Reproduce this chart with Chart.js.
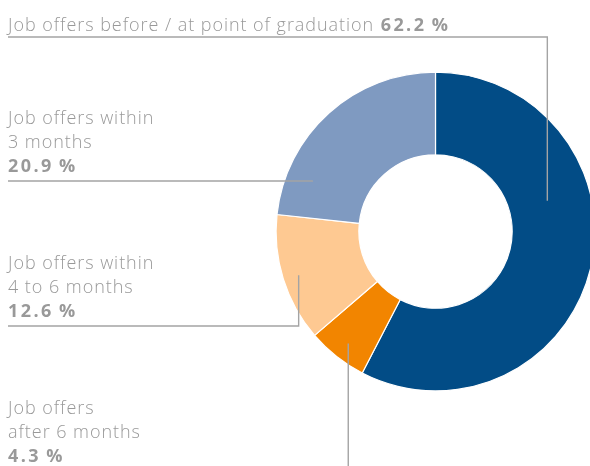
<!DOCTYPE html>
<html>
<head>
<meta charset="utf-8">
<script src="https://cdn.jsdelivr.net/npm/chart.js@4.4.0/dist/chart.umd.min.js"></script>
<style>
  html, body { margin: 0; padding: 0; background: #fff; overflow: hidden; }
  #wrap { width: 590px; height: 466px; position: relative; }
</style>
</head>
<body>
<div id="wrap"><canvas id="offersChart"></canvas></div>
<script>
// slices in drawing order, clockwise from 12 o'clock
const categories = ['Job offers before / at point of graduation', 'Job offers after 6 months', 'Job offers within 4 to 6 months', 'Job offers within 3 months'];
const labelPercents = [62.2, 4.3, 12.6, 20.9];
// slice sizes as they are drawn in the picture (share of the full circle, %)
const sliceShares = [57.6, 6.1, 13.0, 23.3];
const sliceColors = ['#024c86', '#f28500', '#fec992', '#7f9ac1'];

// label text blocks: lines, first baseline, underline, leader anchor inside the slice
const labelLayout = [
    { lines: ['Job offers before / at point of graduation'], inline: true, baseline: 31, underline: 37, at: 0.36, r: 0.475 },
    { lines: ['Job offers', 'after 6 months'], baseline: 413.5, underline: null, at: 0.48, r: 0.79 },
    { lines: ['Job offers within', '4 to 6 months'], baseline: 268.5, underline: 326, at: 0.49, r: 0.81 },
    { lines: ['Job offers within', '3 months'], baseline: 123.5, underline: 181, at: 0.195, r: 0.684 }
];

const textColor = '#999999';
const lineColor = '#a4a4a4';
const fontName = '"Open Sans", Lato, sans-serif';
const regFont = '300 18px ' + fontName;
const boldFont = 'bold 18px ' + fontName;

const calloutPlugin = {
    id: 'callouts',
    afterDraw(chart) {
        const ctx = chart.ctx;
        const arcs = chart.getDatasetMeta(0).data;
        ctx.save();
        ctx.textBaseline = 'alphabetic';
        ctx.textAlign = 'left';
        labelLayout.forEach((lab, i) => {
            const arc = arcs[i];
            const a = arc.startAngle + (arc.endAngle - arc.startAngle) * lab.at;
            const rr = arc.innerRadius + (arc.outerRadius - arc.innerRadius) * lab.r;
            const px = arc.x + Math.cos(a) * rr;
            const py = arc.y + Math.sin(a) * rr;

            // leader line
            ctx.strokeStyle = lineColor;
            ctx.lineWidth = 1.4;
            ctx.beginPath();
            if (lab.underline !== null) {
                ctx.moveTo(8, lab.underline);
                ctx.lineTo(px, lab.underline);
                ctx.lineTo(px, py);
            } else {
                ctx.moveTo(px, chart.height);
                ctx.lineTo(px, py);
            }
            ctx.stroke();

            // text
            const pct = labelPercents[i].toFixed(1) + '\u2009%';
            ctx.fillStyle = textColor;
            let y = lab.baseline;
            ctx.font = regFont;
            ctx.letterSpacing = '0.95px';
            lab.lines.forEach(line => {
                ctx.fillText(line, 8, y);
                if (!lab.inline) y += 24;
            });
            let x = 8;
            if (lab.inline) x += ctx.measureText(lab.lines[0] + ' ').width + 1;
            ctx.font = boldFont;
            ctx.letterSpacing = '2.4px';
            ctx.fillText(pct, x, y);
        });
        ctx.restore();
    }
};

new Chart(document.getElementById('offersChart'), {
    type: 'doughnut',
    data: {
        labels: categories,
        datasets: [{
            data: sliceShares,
            backgroundColor: sliceColors,
            borderColor: '#ffffff',
            borderWidth: 1.2,
            hoverOffset: 0
        }]
    },
    options: {
        responsive: true,
        maintainAspectRatio: false,
        animation: false,
        radius: 159.4,
        cutout: '48.1%',
        rotation: 0,
        layout: { padding: { left: 281, right: 0, top: 0, bottom: 3 } },
        plugins: {
            legend: { display: false },
            tooltip: { enabled: false }
        }
    },
    plugins: [calloutPlugin]
});
</script>
</body>
</html>
